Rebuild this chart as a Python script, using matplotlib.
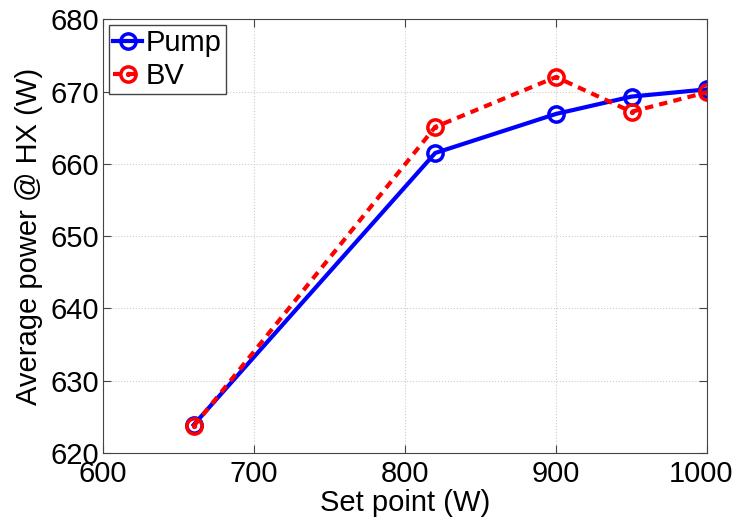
import matplotlib.pyplot as plt
import matplotlib.transforms as mtransforms
from matplotlib.path import Path

# Dữ liệu
set_point = [660, 820, 900, 950, 1000]
pump = [623.9, 661.5, 666.9, 669.3, 670.3]
bv = [623.7, 665.1, 672.0, 667.2, 669.9]

plt.rcParams['font.family'] = ['Liberation Sans', 'DejaVu Sans']

# Vòng tròn có chấm ở giữa cho BV
dot_circle = Path.make_compound_path(Path.unit_circle(), Path.circle(radius=0.12))

fig = plt.figure(figsize=(7.36, 5.19), dpi=100)
ax = fig.add_axes([0.140, 0.127, 0.8206, 0.836])

ax.plot(set_point, pump, '-o', color='#0000ff', lw=3, ms=11, mew=2.5,
        mfc='none', label='Pump')
ax.plot(set_point, bv, color='#ff0000', lw=3, ls=(0, (2.0, 1.5)),
        dash_capstyle='butt', marker=dot_circle, ms=11, mew=2.5,
        mfc='none', label='BV')

ax.set_xlim(600, 1000)
ax.set_ylim(620, 680)
ax.set_xticks([600, 700, 800, 900, 1000])
ax.set_yticks(range(620, 681, 10))
ax.tick_params(direction='in', top=True, right=True, labelsize=21, length=6,
               color='#444444')
ax.tick_params(axis='x', pad=5)
ax.tick_params(axis='y', pad=3)
for s in ax.spines.values():
    s.set_color('#444444')
ax.grid(True, linestyle=':', color='#cccccc', linewidth=0.8)

# Dịch nhãn "1000" sang trái một chút để không bị cắt
last = ax.get_xticklabels()[-1]
last.set_transform(last.get_transform() +
                   mtransforms.ScaledTranslation(-6 / 100, 0, fig.dpi_scale_trans))

ax.set_xlabel('Set point (W)', fontsize=21, labelpad=1)
ax.set_ylabel('Average power @ HX (W)', fontsize=21, labelpad=5)

leg = ax.legend(loc='upper left', fontsize=21, handlelength=1.0,
                handletextpad=0.1, borderpad=0.15, labelspacing=0.15,
                borderaxespad=0.2, fancybox=False, framealpha=1)
leg.get_frame().set_edgecolor('#444444')

plt.savefig('out.png', dpi=100)
plt.close()
